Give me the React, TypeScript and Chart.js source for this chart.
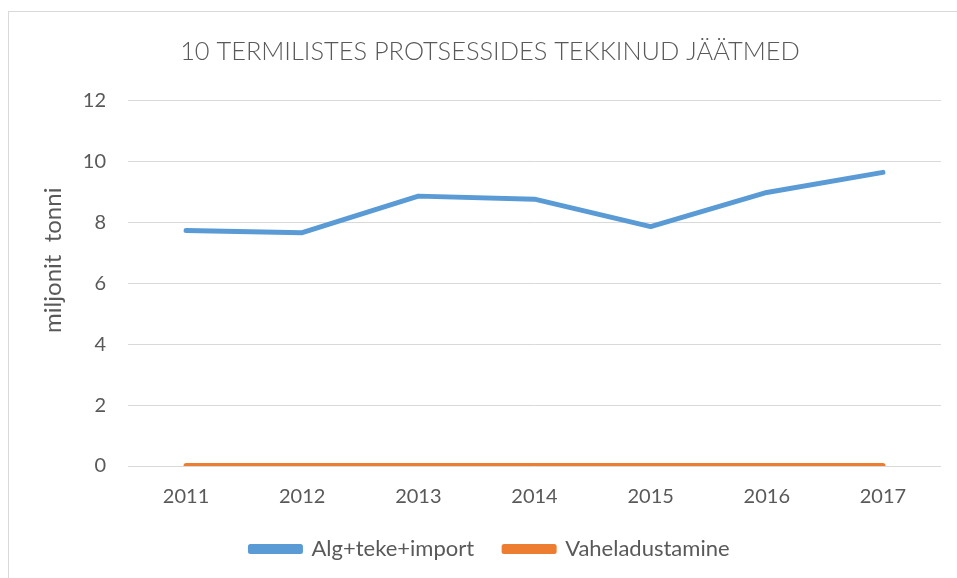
import React, { useEffect, useRef } from "react";
import { Chart, registerables } from "chart.js";

Chart.register(...registerables);

const chartTitle = "10 TERMILISTES PROTSESSIDES TEKKINUD JÄÄTMED";
const yAxisTitle = "miljonit  tonni";
const years = ["2011", "2012", "2013", "2014", "2015", "2016", "2017"];
const algTekeImport = [7.73, 7.66, 8.86, 8.76, 7.86, 8.98, 9.64];
const vaheladustamine = [0.02, 0.02, 0.02, 0.02, 0.02, 0.02, 0.02];
const seriesNames = ["Alg+teke+import", "Vaheladustamine"];
const yMin = 0;
const yMax = 12;
const yStep = 2;

const FONT = "Lato, 'Open Sans', sans-serif";
const TEXT = "#595959";

const yTitlePlugin = {
  id: "yTitlePlugin",
  afterDraw(chart: any) {
    const { ctx, chartArea } = chart;
    ctx.save();
    ctx.fillStyle = TEXT;
    ctx.font = `24px ${FONT}`;
    ctx.textAlign = "center";
    ctx.textBaseline = "middle";
    ctx.translate(44, (chartArea.top + chartArea.bottom) / 2 - 23);
    ctx.rotate(-Math.PI / 2);
    ctx.fillText(yAxisTitle, 0, 0);
    ctx.restore();
  },
};

export default function App() {
  const ref = useRef<HTMLCanvasElement | null>(null);

  useEffect(() => {
    if (!ref.current) return;
    const chart = new Chart(ref.current, {
      type: "line",
      data: {
        labels: years,
        datasets: [
          {
            label: seriesNames[0],
            data: algTekeImport,
            borderColor: "#5B9BD5",
            backgroundColor: "#5B9BD5",
            borderWidth: 5,
            pointRadius: 0,
            borderCapStyle: "round",
            borderJoinStyle: "round",
            tension: 0,
          },
          {
            label: seriesNames[1],
            data: vaheladustamine,
            borderColor: "#ED7D31",
            backgroundColor: "#ED7D31",
            borderWidth: 5,
            pointRadius: 0,
            borderCapStyle: "round",
            borderJoinStyle: "round",
            tension: 0,
          },
        ],
      },
      plugins: [yTitlePlugin],
      options: {
        responsive: false,
        animation: false,
        layout: { padding: { left: 0, right: 0, top: 0, bottom: 32 } },
        plugins: {
          title: {
            display: true,
            text: chartTitle,
            color: TEXT,
            font: { family: FONT, size: 25.4, weight: "300" as any },
            padding: { top: 25, bottom: 33 },
          },
          legend: {
            position: "bottom",
            labels: {
              color: TEXT,
              font: { family: FONT, size: 22 },
              boxWidth: 50,
              boxHeight: 5,
              padding: 30,
            },
          },
          tooltip: { enabled: false },
        },
        scales: {
          x: {
            offset: true,
            grid: { display: false, drawTicks: false },
            border: { display: false },
            ticks: {
              color: TEXT,
              font: { family: FONT, size: 20 },
              padding: 19,
              maxRotation: 0,
            },
            afterFit: (scale: any) => {
              scale.height = scale.height - 20;
            },
          },
          y: {
            min: yMin,
            max: yMax,
            grid: { color: "#D9D9D9", lineWidth: 1, drawTicks: false },
            border: { display: false },
            ticks: {
              stepSize: yStep,
              color: TEXT,
              font: { family: FONT, size: 20 },
              padding: 22,
            },
            afterFit: (scale: any) => {
              scale.width = 119;
            },
          },
          yRightSpace: {
            type: "linear",
            position: "right",
            display: true,
            grid: { display: false, drawTicks: false },
            border: { display: false },
            ticks: { display: false },
            afterFit: (scale: any) => {
              scale.width = 30;
            },
          },
        },
      },
    });
    return () => chart.destroy();
  }, []);

  return (
    <div style={{ position: "fixed", inset: 0, overflow: "hidden", background: "#fff" }}>
      <div
        style={{
          position: "absolute",
          left: 8,
          top: 11,
          width: 962,
          height: 590,
          border: "1px solid #D9D9D9",
          background: "#fff",
        }}
      >
        <canvas ref={ref} width={962} height={590} style={{ display: "block" }} />
      </div>
    </div>
  );
}
